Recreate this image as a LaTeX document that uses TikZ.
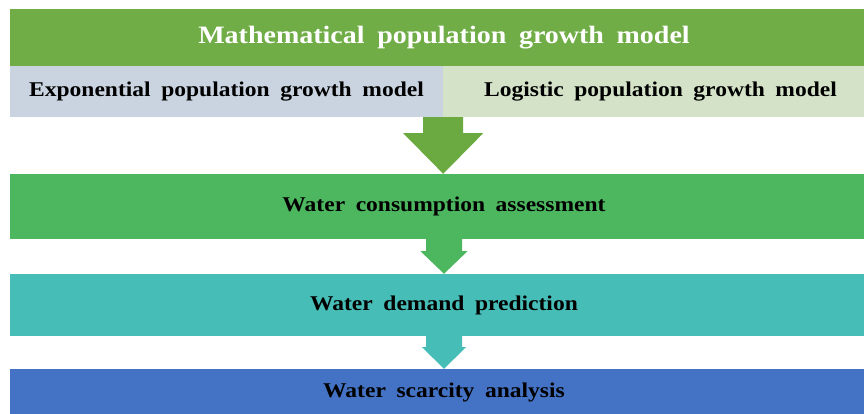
\documentclass[tikz,border=0pt]{standalone}
\usepackage{fontspec}
\setmainfont{Liberation Serif}
\newfontfamily\bandfont[WordSpace=1.8, FakeStretch=1.12]{Liberation Serif}
\usetikzlibrary{calc}

\definecolor{titlegreen}{HTML}{70AD47}
\definecolor{expgray}{HTML}{CAD4E0}
\definecolor{logpale}{HTML}{D4E3C8}
\definecolor{arrowgreen}{HTML}{6BAA41}
\definecolor{consgreen}{HTML}{4DB760}
\definecolor{demteal}{HTML}{46BEB7}
\definecolor{scarblue}{HTML}{4472C4}

\tikzset{
  band/.style={inner sep=0pt, minimum width=868, text=black,
    font=\bandfont\bfseries\fontsize{21}{25}\selectfont},
  half/.style={band, minimum width=#1, minimum height=51},
}

% colour, from, tip, shaft half width, head half width, shaft length
\newcommand{\flowarrow}[6]{%
  \fill[#1] ($(#2)+(-#4,0)$) -- ++(0,#6) -- ++(#4-#5,0) -- (#3)
    -- ($(#2)+(#5,#6)$) -- ++(#4-#5,0) -- ++(0,-#6) -- cycle;}

\begin{document}
\begin{tikzpicture}[x=1pt, y=-1pt]
    \useasboundingbox[fill=white] (0,0) rectangle (864,414);

    \node[band, fill=titlegreen, minimum height=57, text=white,
      font=\bandfont\bfseries\fontsize{25}{29}\selectfont] (title) at (444,37.5) {Mathematical population growth model};
    \node[half=433, fill=expgray] (exp) at (226.5,91.5) {Exponential population growth model};
    \node[half=435, fill=logpale] (log) at (660.5,91.5) {Logistic population growth model};

    \node[band, fill=consgreen, minimum height=65] (cons) at (444,206.5) {Water consumption assessment};
    \node[band, fill=demteal, minimum height=62] (dem) at (444,305) {Water demand prediction};
    \node[band, fill=scarblue, minimum height=46] (scar) at (444,392) {Water scarcity analysis};

    \flowarrow{arrowgreen}{exp.south east}{exp.south east |- cons.north}{20}{40}{16}
    \flowarrow{consgreen}{cons.south}{dem.north}{18}{23.5}{12}
    \flowarrow{demteal}{dem.south}{scar.north}{18}{22}{11}
\end{tikzpicture}
\end{document}
